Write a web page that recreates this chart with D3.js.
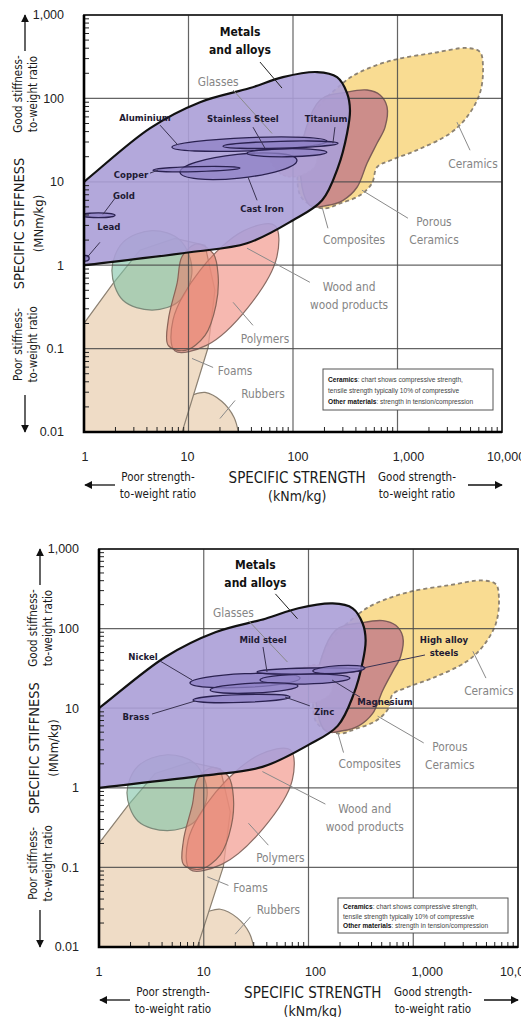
<!DOCTYPE html>
<html>
<head>
<meta charset="utf-8">
<script src="https://cdn.jsdelivr.net/npm/d3@7"></script>
<style>
  body { margin: 0; background: #fff; }
  svg { display: block; }
  text { font-family: "DejaVu Sans Condensed", "Liberation Sans Narrow", sans-serif; }
</style>
</head>
<body>
<svg id="chart" width="521" height="1017"></svg>
<script>
// axis ticks
const tickValuesX = [1, 10, 100, 1000, 10000];
const tickLabelsX = ["1", "10", "100", "1,000", "10,000"];
const tickValuesY = [0.01, 0.1, 1, 10, 100, 1000];
const tickLabelsY = ["0.01", "0.1", "1", "10", "100", "1,000"];

// material envelopes: [specific strength kNm/kg, specific stiffness MNm/kg]
const metalsRegion = [[0.5, 5], [1, 10], [4.3, 44], [12.9, 90], [38.8, 133], [80, 180], [170, 207], [264, 180],
  [329, 116], [351, 72], [329, 38], [270, 15], [190, 6], [100, 3.46], [36.3, 1.83], [10.3, 1.43], [1, 1], [0.5, 0.9]];
const ceramicsRegion = [[145, 55], [301, 153], [438, 207], [906, 288], [2188, 350], [4624, 402], [6152, 360],
  [6577, 238], [6152, 116], [4624, 60], [3177, 38], [1538, 24], [848, 18], [637, 15], [570, 9.6], [438, 6.9],
  [282, 5.5], [194, 4.8], [117, 6.9]];
const porousCeramicsRegion = [[181, 95], [329, 119], [511, 126], [680, 110], [794, 79], [759, 45], [637, 29],
  [511, 16.7], [410, 8.6], [301, 6.0], [211, 5.2], [145, 5.2], [117, 18]];
const glassesRegion = [[60, 20], [80, 30], [120, 35], [160, 28], [165, 16], [120, 12], [80, 12]];
const polymersRegion = [[67, 3], [70, 1.25], [37, 0.31], [15, 0.11], [7.4, 0.094], [7.1, 0.22], [13, 0.88], [34, 2.6]];
const woodRegion = [[12.1, 1.8], [17.2, 1.39], [19.2, 0.76], [18.3, 0.33], [14.4, 0.144], [9.3, 0.095],
  [6.4, 0.109], [6.4, 0.218], [7.8, 0.62], [8.7, 1.28]];
const naturalRegion = [[4.5, 2.6], [8.3, 2.0], [10.8, 0.87], [8.3, 0.38], [4.5, 0.29], [2.36, 0.38], [1.85, 0.87], [2.36, 1.88]];
const foamsRegion = [[0.735, 0.119], [1, 0.201], [1.9, 0.607], [3.43, 1.51], [7.43, 2.1], [14.4, 1.73],
  [17.9, 0.5], [15.4, 0.103], [8.67, 0.0099], [7.94, 0.0069], [0.735, 0.0069]];
const rubbersRegion = [[9.6, 0.0274], [10.3, 0.0274], [14.4, 0.0298], [20.9, 0.0232], [27.3, 0.0149],
  [31.1, 0.0079], [33, 0.004], [8, 0.004]];

// individual alloys: low end, high end, stiffness spread factor
const topAlloys = [
  {name: "Cast Iron", lo: [8.29, 13.0], hi: [109, 18.2], spread: 1.39},
  {name: "Aluminium", lo: [6.95, 26.0], hi: [211, 30.7], spread: 1.2},
  {name: "Copper", lo: [4.57, 13.8], hi: [31.1, 14.6], spread: 1.07},
  {name: "Stainless Steel", lo: [36.3, 22.0], hi: [211, 22.6], spread: 1.117},
  {name: "Titanium", lo: [21.4, 26.7], hi: [270, 29.0], spread: 1.10},
  {name: "Gold", lo: [0.95, 3.97], hi: [1.98, 3.97], spread: 1.07},
  {name: "Lead", lo: [0.95, 1.21], hi: [1.12, 1.21], spread: 1.08}
];
const bottomAlloys = [
  {name: "Nickel", lo: [7.39, 20.7], hi: [83, 23.9], spread: 1.22},
  {name: "Magnesium", lo: [34.4, 22.6], hi: [249, 23.9], spread: 1.155},
  {name: "Mild steel", lo: [32.2, 28.5], hi: [324, 30.2], spread: 1.09},
  {name: "High alloy steels", lo: [110, 29.3], hi: [346, 32.0], spread: 1.12},
  {name: "Zinc", lo: [11.5, 16.9], hi: [79.4, 19.0], spread: 1.155},
  {name: "Brass", lo: [7.89, 12.7], hi: [66.6, 13.8], spread: 1.12}
];

// labels: text position and leader line, in data units
const materialLabels = [
  {lines: ["Metals", "and alloys"], at: [31.1, 625], from: [48.3, 273], to: [78.5, 133], kind: "main"},
  {lines: ["Glasses"], at: [19.2, 157], from: [26.7, 126], to: [63, 38], kind: "grey"},
  {lines: ["Ceramics"], at: [5277, 16.3], from: [4943, 23.9], to: [3707, 51.9], kind: "grey"},
  {lines: ["Porous", "Ceramics"], at: [2235, 3.27], from: [1259, 3.66], to: [457, 7.93], kind: "grey"},
  {lines: ["Composites"], at: [384, 1.99], from: [216, 2.77], to: [190, 4.96], kind: "grey"},
  {lines: ["Wood and", "wood products"], at: [344, 0.543], from: [145, 0.624], to: [36.3, 1.6], kind: "grey"},
  {lines: ["Polymers"], at: [53.9, 0.132], from: [41.4, 0.19], to: [26.7, 0.359], kind: "grey"},
  {lines: ["Foams"], at: [27.9, 0.0547], from: [17.2, 0.0594], to: [10.8, 0.0762], kind: "grey"},
  {lines: ["Rubbers"], at: [51.6, 0.029], from: [27.9, 0.0239], to: [20, 0.0145], kind: "grey"}
];
const topAlloyLabels = [
  {lines: ["Aluminium"], at: [3.83, 58], from: [5.34, 47.8], to: [7.94, 27.5], kind: "alloy"},
  {lines: ["Stainless Steel"], at: [33.2, 56.5], from: [41.4, 45.2], to: [53.9, 25.3], kind: "alloy"},
  {lines: ["Titanium"], at: [207, 56.5], from: [252, 45.2], to: [241, 29], kind: "alloy"},
  {lines: ["Copper"], at: [2.82, 12.3], from: [4.28, 12.7], to: [5.11, 13.8], kind: "alloy"},
  {lines: ["Gold"], at: [2.41, 6.9], from: [1.98, 6.35], to: [1.52, 4.08], kind: "alloy"},
  {lines: ["Lead"], at: [1.73, 2.93], from: [1.42, 1.88], to: [1.07, 1.24], kind: "alloy"},
  {lines: ["Cast Iron"], at: [50.5, 4.82], from: [45.3, 6.0], to: [37.1, 11.4], kind: "alloy"}
];
const bottomAlloyLabels = [
  {lines: ["Mild steel"], at: [36.8, 71.9], from: [36.8, 58.7], to: [40.2, 28.5], kind: "alloy"},
  {lines: ["Nickel"], at: [2.63, 44], from: [3.82, 39.2], to: [7.73, 22.6], kind: "alloy"},
  {lines: ["Brass"], at: [2.25, 7.74], from: [3.21, 8.45], to: [8.25, 12.3], kind: "alloy"},
  {lines: ["Zinc"], at: [141, 8.96], from: [103, 10.7], to: [59.7, 13.8], kind: "alloy"},
  {lines: ["Magnesium"], at: [537, 12], from: [310, 13.8], to: [168, 22.6], kind: "alloy"},
  {lines: ["High alloy", "steels"], at: [1967, 71.9], from: [1294, 46.6], to: [331, 32], kind: "alloy"}
];

const noteLines = [
  ["Ceramics", ": chart shows compressive strength,"],
  ["", "tensile strength typically 10% of compressive"],
  ["Other materials", ": strength in tension/compression"]
];

const svg = d3.select("#chart");
const defs = svg.append("defs");
defs.append("marker").attr("id", "arrow")
  .attr("viewBox", "0 0 10 10").attr("refX", 9).attr("refY", 5)
  .attr("markerWidth", 8).attr("markerHeight", 8)
  .attr("markerUnits", "userSpaceOnUse").attr("orient", "auto")
  .append("path").attr("d", "M0,0L10,5L0,10z").attr("fill", "#111");

const labelStyle = {
  main: {size: 12, weight: "bold", fill: "#111", line: "#222", lh: 18},
  grey: {size: 11.8, weight: "normal", fill: "#858585", line: "#8a8a8a", lh: 18},
  alloy: {size: 9.5, weight: "bold", fill: "#1e1a33", line: "#3a3352", lh: 13}
};

function drawChart(c) {
  const W = c.R - c.L, H = c.B - c.T;
  const x = d3.scaleLog().domain([1, 10000]).range([c.L, c.R]);
  const y = d3.scaleLog().domain([0.01, 1000]).range([c.B, c.T]);
  const g = svg.append("g");

  defs.append("clipPath").attr("id", c.id).append("rect")
    .attr("x", c.L).attr("y", c.T).attr("width", W).attr("height", H);

  const plot = g.append("g").attr("clip-path", `url(#${c.id})`);
  const smooth = d3.line().x(d => x(d[0])).y(d => y(d[1])).curve(d3.curveCatmullRomClosed.alpha(0.5));
  const straight = d3.line().x(d => x(d[0])).y(d => y(d[1])).curve(d3.curveLinearClosed);

  // lower classes first
  plot.append("path").attr("d", smooth(rubbersRegion)).attr("fill", "#efdcc6").attr("stroke", "#8c8172").attr("stroke-width", 1.2);
  plot.append("path").attr("d", straight(foamsRegion)).attr("fill", "#efdcc6").attr("stroke", "#8c8172").attr("stroke-width", 1.2);
  plot.append("path").attr("d", smooth(naturalRegion)).attr("fill", "#7fc3a6").attr("fill-opacity", 0.6)
    .attr("stroke", "#7d8a7a").attr("stroke-width", 1.2);
  plot.append("path").attr("d", smooth(polymersRegion)).attr("fill", "#f3a096").attr("fill-opacity", 0.75)
    .attr("stroke", "#8a6a62").attr("stroke-width", 1.2);
  plot.append("path").attr("d", smooth(woodRegion)).attr("fill", "#e4806c").attr("fill-opacity", 0.6)
    .attr("stroke", "#8a6458").attr("stroke-width", 1.2);
  plot.append("path").attr("d", smooth(ceramicsRegion)).attr("fill", "#f9dc92")
    .attr("stroke", "#8c8272").attr("stroke-width", 1.8).attr("stroke-dasharray", "4,3");
  plot.append("path").attr("d", smooth(porousCeramicsRegion)).attr("fill", "#c47f88").attr("fill-opacity", 0.85)
    .attr("stroke", "#7d5c58").attr("stroke-width", 1.4);
  plot.append("path").attr("d", smooth(glassesRegion)).attr("fill", "#e8b6b2")
    .attr("stroke", "#c99c9a").attr("stroke-width", 1.4).attr("stroke-dasharray", "3,2");

  // grid
  g.append("g").selectAll("line.gx").data(tickValuesX.slice(1, -1)).join("line")
    .attr("x1", d => x(d)).attr("x2", d => x(d)).attr("y1", c.T).attr("y2", c.B)
    .attr("stroke", "#4a4a4a").attr("stroke-width", 1.2).attr("opacity", 0.85);
  g.append("g").selectAll("line.gy").data(tickValuesY.slice(1, -1)).join("line")
    .attr("x1", c.L).attr("x2", c.R).attr("y1", d => y(d)).attr("y2", d => y(d))
    .attr("stroke", "#4a4a4a").attr("stroke-width", 1.2).attr("opacity", 0.85);

  const top = g.append("g").attr("clip-path", `url(#${c.id})`);
  top.append("path").attr("d", smooth(metalsRegion)).attr("fill", "#ab9ed7").attr("fill-opacity", 0.9)
    .attr("stroke", "#111").attr("stroke-width", 2.2);

  c.alloys.forEach(a => {
    const x1 = x(a.lo[0]), y1 = y(a.lo[1]), x2 = x(a.hi[0]), y2 = y(a.hi[1]);
    const cx = (x1 + x2) / 2, cy = (y1 + y2) / 2;
    const ang = Math.atan2(y2 - y1, x2 - x1) * 180 / Math.PI;
    top.append("ellipse").attr("cx", cx).attr("cy", cy)
      .attr("rx", Math.hypot(x2 - x1, y2 - y1) / 2)
      .attr("ry", y(a.lo[1] / a.spread) - y(a.lo[1]))
      .attr("transform", `rotate(${ang},${cx},${cy})`)
      .attr("fill", "#8f81c6").attr("fill-opacity", 0.75)
      .attr("stroke", "#2a2150").attr("stroke-width", 1.3);
  });

  // minor ticks
  const minorY = y.ticks().filter(v => !tickValuesY.includes(v));
  g.append("g").selectAll("line").data(minorY).join("line")
    .attr("x1", c.L).attr("x2", c.L + 5).attr("y1", d => y(d)).attr("y2", d => y(d))
    .attr("stroke", "#222").attr("stroke-width", 1);
  const minorX = x.ticks().filter(v => !tickValuesX.includes(v));
  g.append("g").selectAll("line").data(minorX).join("line")
    .attr("x1", d => x(d)).attr("x2", d => x(d)).attr("y1", c.B).attr("y2", c.B - 5)
    .attr("stroke", "#222").attr("stroke-width", 1);

  // frame
  g.append("rect").attr("x", c.L).attr("y", c.T).attr("width", W).attr("height", H)
    .attr("fill", "none").attr("stroke", "#222").attr("stroke-width", 1.8);
  g.append("path").attr("d", `M${c.L},${c.T}V${c.B}H${c.R}`).attr("fill", "none")
    .attr("stroke", "#000").attr("stroke-width", 2.6);

  // tick labels
  g.append("g").selectAll("text").data(tickValuesY).join("text")
    .attr("x", c.L - 20).attr("y", d => y(d)).attr("dy", "0.35em")
    .attr("text-anchor", "end").style("font-family", "'Liberation Sans', Arial, sans-serif")
    .attr("font-size", 12.5).attr("fill", "#222")
    .text((d, i) => tickLabelsY[i]);
  g.append("g").selectAll("text").data(tickValuesX).join("text")
    .attr("x", (d, i) => x(d) + c.nudge[i]).attr("y", c.B + 25).attr("dy", "0.35em")
    .attr("text-anchor", "middle").style("font-family", "'Liberation Sans', Arial, sans-serif")
    .attr("font-size", 12.5).attr("fill", "#222")
    .text((d, i) => tickLabelsX[i]);

  // labels and leader lines
  const labels = materialLabels.concat(c.alloyLabels);
  labels.forEach(l => {
    const s = labelStyle[l.kind];
    g.append("line").attr("x1", x(l.from[0])).attr("y1", y(l.from[1]))
      .attr("x2", x(l.to[0])).attr("y2", y(l.to[1]))
      .attr("stroke", s.line).attr("stroke-width", 1);
    const t = g.append("text").attr("text-anchor", "middle")
      .attr("font-size", s.size).attr("font-weight", s.weight).attr("fill", s.fill);
    l.lines.forEach((ln, i) => {
      t.append("tspan").attr("x", x(l.at[0])).attr("y", y(l.at[1]) + i * s.lh).attr("dy", "0.35em").text(ln);
    });
  });

  // note box
  const bw = 170, bx = c.R - c.boxRight - bw, by = c.B - c.boxBottom - c.boxH;
  g.append("rect").attr("x", bx).attr("y", by).attr("width", bw).attr("height", c.boxH)
    .attr("fill", "#fff").attr("stroke", "#555").attr("stroke-width", 1);
  const rows = [0.25, 0.52, 0.8];
  noteLines.forEach((nl, i) => {
    const t = g.append("text").attr("x", bx + 5).attr("y", by + c.boxH * rows[i]).attr("dy", "0.35em")
      .style("font-family", "'Liberation Sans', Arial, sans-serif").attr("font-size", 6.6).attr("fill", "#444");
    t.append("tspan").attr("font-weight", "bold").attr("fill", "#111").text(nl[0]);
    t.append("tspan").text(nl[1]);
  });

  // axis titles
  const ax = g.append("g").attr("fill", "#1a1a1a");
  const vtext = (px, py, str, size) => ax.append("text")
    .attr("transform", `translate(${px},${py}) rotate(-90)`).attr("text-anchor", "middle")
    .attr("dy", "0.35em").attr("font-size", size).text(str);
  vtext(c.L - 66, c.T + 79, "Good stiffness-", 11.5);
  vtext(c.L - 51, c.T + 79, "to-weight ratio", 11.5);
  vtext(c.L - 65, c.T + 0.5 * H, "SPECIFIC STIFFNESS", 14.5);
  vtext(c.L - 46, c.T + 0.5 * H, "(MNm/kg)", 13);
  vtext(c.L - 66, c.T + 0.79 * H, "Poor stiffness-", 11.5);
  vtext(c.L - 51, c.T + 0.79 * H, "to-weight ratio", 11.5);

  const htext = (px, py, str, size) => ax.append("text").attr("x", px).attr("y", py)
    .attr("text-anchor", "middle").attr("dy", "0.35em").attr("font-size", size).text(str);
  htext(c.L + 74, c.B + 45, "Poor strength-", 11.5);
  htext(c.L + 74, c.B + 62, "to-weight ratio", 11.5);
  htext(c.L + 0.51 * W, c.B + 46, "SPECIFIC STRENGTH", 15);
  htext(c.L + 0.51 * W, c.B + 64, "(kNm/kg)", 14);
  htext(c.R - 85, c.B + 45, "Good strength-", 11.5);
  htext(c.R - 85, c.B + 62, "to-weight ratio", 11.5);

  const arrow = (x1, y1, x2, y2) => ax.append("line").attr("x1", x1).attr("y1", y1).attr("x2", x2).attr("y2", y2)
    .attr("stroke", "#111").attr("stroke-width", 1.3).attr("marker-end", "url(#arrow)");
  arrow(c.L - 59, c.T + 36, c.L - 59, c.T);
  arrow(c.L - 59, c.B - 37, c.L - 59, c.B);
  arrow(c.L + 31, c.B + 53, c.L + 1, c.B + 53);
  arrow(c.R - 34, c.B + 53, c.R, c.B + 53);
}

drawChart({id: "clipTop", L: 84, T: 15, R: 502, B: 432, boxH: 41, boxBottom: 22, boxRight: 9,
  nudge: [1, -1, 5, 11, 4], alloys: topAlloys, alloyLabels: topAlloyLabels});
drawChart({id: "clipBottom", L: 99, T: 549, R: 518, B: 947, boxH: 35, boxBottom: 14, boxRight: 10,
  nudge: [0, 0, 7, 14, 1], alloys: bottomAlloys, alloyLabels: bottomAlloyLabels});
</script>
</body>
</html>
